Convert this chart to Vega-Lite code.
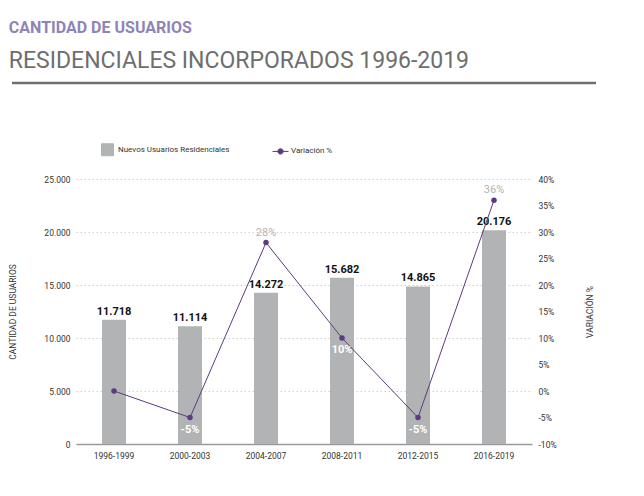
{
  "$schema": "https://vega.github.io/schema/vega-lite/v6.json",
  "padding": {"left": 8, "top": 19, "right": 0, "bottom": 0},
  "background": "white",
  "title": {
    "text": "CANTIDAD DE USUARIOS",
    "subtitle": "RESIDENCIALES INCORPORADOS 1996-2019",
    "anchor": "start",
    "font": "Roboto",
    "fontSize": 16,
    "fontWeight": "bold",
    "color": "#8f84b6",
    "subtitleFont": "Roboto",
    "subtitleFontSize": 23,
    "subtitleFontWeight": "normal",
    "subtitleColor": "#6e6e6e",
    "subtitlePadding": 14,
    "offset": 9
  },
  "datasets": {
    "usuarios": [
      {"periodo": "1996-1999", "usuarios": 11718, "variacion": 0},
      {"periodo": "2000-2003", "usuarios": 11114, "variacion": -0.05},
      {"periodo": "2004-2007", "usuarios": 14272, "variacion": 0.28},
      {"periodo": "2008-2011", "usuarios": 15682, "variacion": 0.10},
      {"periodo": "2012-2015", "usuarios": 14865, "variacion": -0.05},
      {"periodo": "2016-2019", "usuarios": 20176, "variacion": 0.36}
    ]
  },
  "columns": 1,
  "center": true,
  "bounds": "flush",
  "spacing": 96,
  "resolve": {"legend": {"color": "independent"}},
  "concat": [
    {
      "width": 584,
      "height": 1,
      "data": {"values": [{}]},
      "mark": {"type": "rule", "color": "#707070", "strokeWidth": 2.5},
      "encoding": {
        "y": {"datum": 0, "type": "quantitative", "axis": null, "scale": {"domain": [0, 1]}}
      }
    },
    {
      "width": 456,
      "height": 265,
      "data": {"name": "usuarios"},
      "encoding": {
        "x": {
          "field": "periodo",
          "type": "ordinal",
          "sort": null,
          "scale": {"paddingInner": 0, "paddingOuter": 0},
          "axis": {
            "title": null,
            "ticks": false,
            "labelAngle": 0,
            "labelPadding": 7,
            "labelFontSize": 8.5,
            "labelColor": "#333333",
            "domainColor": "#9a9a9a",
            "domainWidth": 1.5
          }
        }
      },
      "layer": [
        {
          "encoding": {
            "y": {
              "field": "usuarios",
              "type": "quantitative",
              "scale": {"domain": [0, 25000], "nice": false},
              "axis": {
                "title": "CANTIDAD DE USUARIOS",
                "titleFontSize": 8.5,
                "titleFontWeight": "normal",
                "titleColor": "#333333",
                "titlePadding": 26,
                "values": [0, 5000, 10000, 15000, 20000, 25000],
                "format": ",d",
                "labelFontSize": 8.5,
                "labelColor": "#333333",
                "labelPadding": 6,
                "ticks": false,
                "domain": false,
                "grid": true,
                "gridColor": "#cfcfcf",
                "gridDash": [1.5, 2.5],
                "gridWidth": 1
              }
            }
          },
          "layer": [
            {
              "mark": {"type": "bar", "width": 24},
              "encoding": {
                "color": {
                  "datum": "Nuevos Usuarios Residenciales",
                  "scale": {
                    "domain": ["Nuevos Usuarios Residenciales", "Variación %"],
                    "range": ["#b1b3b4", "#5c3b7e"]
                  },
                  "legend": {
                    "title": null,
                    "orient": "none",
                    "direction": "horizontal",
                    "legendX": 25,
                    "legendY": -36,
                    "columnPadding": 40,
                    "labelFontSize": 8,
                    "labelColor": "#333333",
                    "labelOffset": 4,
                    "encode": {
                      "symbols": {
                        "update": {
                          "shape": {"signal": "datum.value === 'Variación %' ? 'M-1,0H1M0.33,0A0.33,0.33 0 1 1 -0.33,0A0.33,0.33 0 1 1 0.33,0' : 'square'"},
                          "size": {"signal": "datum.value === 'Variación %' ? 256 : 144"},
                          "fill": {"signal": "datum.value === 'Variación %' ? '#5c3b7e' : '#b1b3b4'"},
                          "stroke": {"signal": "datum.value === 'Variación %' ? '#5c3b7e' : null"},
                          "strokeWidth": {"value": 1},
                          "opacity": {"value": 1},
                          "fillOpacity": {"value": 1}
                        }
                      }
                    }
                  }
                }
              }
            },
            {
              "mark": {"type": "text", "dy": -3, "baseline": "bottom", "fontSize": 11, "fontWeight": "bold", "color": "#111111"},
              "encoding": {
                "text": {"field": "usuarios", "type": "quantitative", "format": ",d"}
              }
            }
          ]
        },
        {
          "encoding": {
            "y": {
              "field": "variacion",
              "type": "quantitative",
              "scale": {"domain": [-0.1, 0.4], "nice": false},
              "axis": {
                "orient": "right",
                "title": "VARIACIÓN %",
                "titleAngle": -90,
                "titleFontSize": 8.5,
                "titleFontWeight": "normal",
                "titleColor": "#333333",
                "titlePadding": 38,
                "values": [-0.1, -0.05, 0, 0.05, 0.1, 0.15, 0.2, 0.25, 0.3, 0.35, 0.4],
                "format": ".0%",
                "labelFontSize": 8.5,
                "labelColor": "#333333",
                "labelPadding": 6,
                "ticks": false,
                "domain": false,
                "grid": false
              }
            }
          },
          "layer": [
            {
              "mark": {"type": "line", "strokeWidth": 1, "point": {"filled": true, "size": 30, "color": "#5c3b7e"}},
              "encoding": {
                "color": {"datum": "Variación %"}
              }
            },
            {
              "transform": [{"filter": "datum.variacion > 0.2"}],
              "mark": {"type": "text", "dy": -10, "fontSize": 11, "color": "#b3b3b3"},
              "encoding": {
                "text": {"field": "variacion", "type": "quantitative", "format": ".0%"}
              }
            },
            {
              "transform": [{"filter": "datum.variacion < 0.2 && datum.variacion != 0"}],
              "mark": {"type": "text", "dy": 12, "fontSize": 11, "fontWeight": "bold", "color": "#ffffff"},
              "encoding": {
                "text": {"field": "variacion", "type": "quantitative", "format": ".0%"}
              }
            }
          ]
        }
      ],
      "resolve": {"scale": {"y": "independent"}}
    }
  ],
  "config": {
    "font": "Roboto",
    "view": {"stroke": null},
    "locale": {
      "number": {
        "decimal": ",",
        "thousands": ".",
        "grouping": [3],
        "currency": ["$", ""],
        "minus": "-",
        "percent": "%"
      }
    }
  }
}
